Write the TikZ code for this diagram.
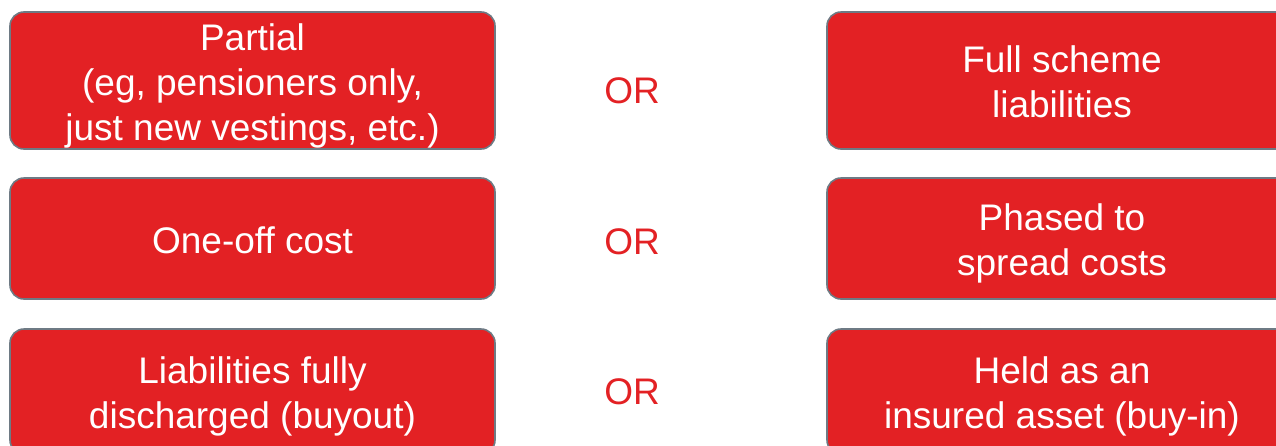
\documentclass[tikz,border=0pt]{standalone}
\usepackage{fontspec}
\setmainfont{Liberation Sans}
\usepackage{tikz}
\usetikzlibrary{positioning}
\definecolor{boxred}{HTML}{E32124}
\definecolor{edgegrey}{HTML}{6E7A84}
\newcommand{\linestrut}{\rule[-8pt]{0pt}{45pt}}

\tikzset{
  choice/.style={fill=boxred,draw=edgegrey,line width=1.6pt,rounded corners=14pt,
    text=white,align=center,font=\fontsize{37}{45}\selectfont,inner sep=0pt},
  lhs/.style={choice,minimum width=485pt},
  rhs/.style={choice,minimum width=470pt},
  ortext/.style={text=boxred,font=\fontsize{37}{45}\selectfont,inner sep=0pt,anchor=base}
}

\begin{document}
\begin{tikzpicture}[x=1pt,y=-1pt]
  \clip (0,0) rectangle (1276,445);
  % left column
  \node[lhs,minimum height=137pt] (partial) at (252.5,80.5)
     {\linestrut Partial\\(eg, pensioners only,\\just new vestings, etc.)\linestrut};
  \node[lhs,minimum height=121pt] (oneoff) at (252.5,238.5) {\linestrut One-off cost};
  \node[lhs,minimum height=125pt] (buyout) at (252.5,391.5)
     {\linestrut Liabilities fully\\discharged (buyout)\linestrut};
  % right column
  \node[rhs,minimum height=137pt] (full) at (1062,80.5)
     {\linestrut Full scheme\\liabilities\linestrut};
  \node[rhs,minimum height=121pt] (phased) at (1062,238.5)
     {\linestrut Phased to\\spread costs\linestrut};
  \node[rhs,minimum height=125pt] (buyin) at (1062,391.5)
     {\linestrut Held as an\\insured asset (buy-in)\linestrut};
  % or between
  \node[ortext] (orA) at (632,103) {OR};
  \node[ortext] (orB) at (632,254) {OR};
  \node[ortext] (orC) at (632,404) {OR};
\end{tikzpicture}
\end{document}
